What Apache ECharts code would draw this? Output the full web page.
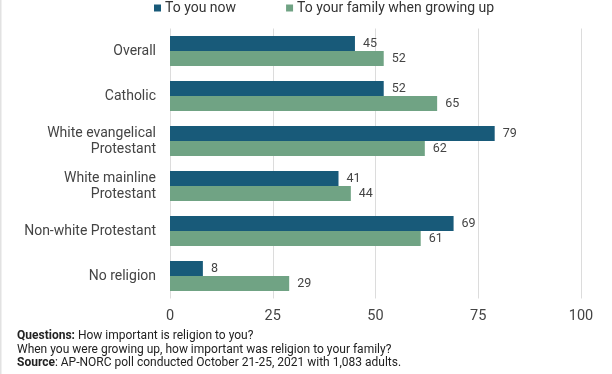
<!DOCTYPE html>
<html><head><meta charset="utf-8">
<script src="https://cdn.jsdelivr.net/npm/echarts@6/dist/echarts.min.js"></script>
<style>html,body{margin:0;padding:0;background:#fff}#c{width:612px;height:374px}</style>
</head><body><div id="c"></div>
<script>
const categories = ["Overall", "Catholic", "White evangelical\nProtestant", "White mainline\nProtestant", "Non-white Protestant", "No religion"];
const seriesNames = ["To you now", "To your family when growing up"];
const youNow = [45, 52, 79, 41, 69, 8];
const family = [52, 65, 62, 44, 61, 29];
const xTicks = [0, 25, 50, 75, 100];
const notes = [
  ["Questions:", " How important is religion to you?"],
  ["", "When you were growing up, how important was religion to your family?"],
  ["Source", ": AP-NORC poll conducted October 21-25, 2021 with 1,083 adults."]
];
const colors = ["#185a79", "#70a384"];
const chart = echarts.init(document.getElementById('c'), null, {renderer: 'canvas'});
const F = 'Roboto, sans-serif';
chart.setOption({
  animation: false,
  textStyle: {fontFamily: F},
  legend: {
    top: 1, left: 154, padding: 0, itemWidth: 7, itemHeight: 7, itemGap: 50, icon: 'rect',
    textStyle: {fontSize: 14, color: '#333', fontFamily: F, padding: [0, 0, 0, -1]},
    data: seriesNames
  },
  grid: {left: 170, right: 31, top: 28.5, bottom: 75.5, containLabel: false},
  xAxis: {
    type: 'value', min: xTicks[0], max: xTicks[xTicks.length - 1], interval: 25,
    axisLine: {show: false}, axisTick: {show: false},
    splitLine: {show: true, lineStyle: {color: '#dcdcdc', width: 1}},
    axisLabel: {fontSize: 14.5, color: '#444', margin: 10, fontFamily: F}
  },
  yAxis: {
    type: 'category', data: categories, inverse: true,
    axisLine: {show: false}, axisTick: {show: false},
    axisLabel: {fontSize: 14, color: '#444', margin: 14, lineHeight: 16, fontFamily: F, align: 'right'}
  },
  series: [
    {name: seriesNames[0], type: 'bar', data: youNow, barWidth: 15, barGap: '0%',
     itemStyle: {color: colors[0]},
     label: {show: true, position: 'right', distance: 8, fontSize: 12.5, color: '#444', fontFamily: F}},
    {name: seriesNames[1], type: 'bar', data: family, barWidth: 15, barGap: '0%',
     itemStyle: {color: colors[1]},
     label: {show: true, position: 'right', distance: 8, fontSize: 12.5, color: '#444', fontFamily: F}}
  ],
  graphic: [{
    type: 'rect', left: 0, top: 0, shape: {x: 0, y: 0, width: 1.5, height: 374},
    style: {fill: '#e2e2e2'}, silent: true
  }].concat(notes.map((n, i) => ({
    type: 'text', left: 17, top: 330 + i * 13.6,
    style: {
      rich: {b: {fontWeight: 'bold', fontSize: 12, fill: '#222', fontFamily: F}, r: {fontSize: 12, fill: '#222', fontFamily: F}},
      text: (n[0] ? '{b|' + n[0] + '}' : '') + '{r|' + n[1] + '}'
    }
  })))
});
</script></body></html>
